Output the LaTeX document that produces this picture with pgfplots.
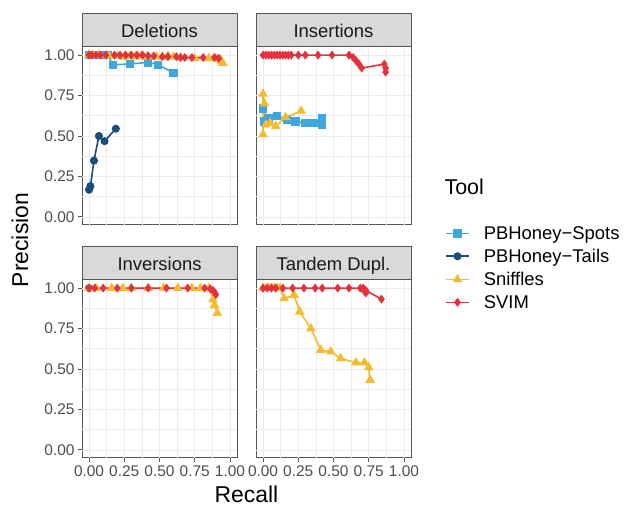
\documentclass[border=0pt]{standalone}
\usepackage{fontspec}
\setmainfont{Liberation Sans}
\usepackage{pgfplots}
\pgfplotsset{compat=1.18}

\definecolor{spots}{HTML}{3EA8DE}
\definecolor{tails}{HTML}{1A4D7C}
\definecolor{sniffles}{HTML}{F6BA2F}
\definecolor{svim}{HTML}{E3323E}
\definecolor{gridc}{HTML}{EBEBEB}
\definecolor{borderc}{HTML}{555555}
\definecolor{stripc}{HTML}{D9D9D9}
\definecolor{tickc}{HTML}{4D4D4D}

\pgfplotsset{
  panel/.style={
    width=155bp, height=178bp, scale only axis, clip=false,
    anchor=south west,
    xmin=-0.05, xmax=1.05, ymin=-0.05, ymax=1.05,
    xtick={0,0.25,0.5,0.75,1}, ytick={0,0.25,0.5,0.75,1},
    xmajorgrids=false, ymajorgrids=false,
    % grid lines come from extra ticks that have no length
    extra x ticks={0,0.125,0.25,0.375,0.5,0.625,0.75,0.875,1},
    extra y ticks={0,0.125,0.25,0.375,0.5,0.625,0.75,0.875,1},
    extra x tick labels={}, extra y tick labels={},
    extra x tick style={grid=major, major tick length=0pt,
      major grid style={draw=gridc, line width=0.65bp}},
    extra y tick style={grid=major, major tick length=0pt,
      major grid style={draw=gridc, line width=0.65bp}},
    axis line style={draw=borderc, line width=1bp},
    tick align=outside, major tick length=4bp,
    tick style={draw=borderc, line width=0.9bp},
    xtick pos=left, ytick pos=left,
    tick label style={font=\fontsize{15.5}{18}\selectfont, text=tickc},
    /pgf/number format/.cd, fixed, fixed zerofill, precision=2,
    assume math mode=true, /pgfplots/.cd,
  },
  top/.style={xtick=\empty},
  right/.style={ytick=\empty},
  sp/.style={color=spots, line width=1.6bp, mark=square*, mark size=3.4bp, mark options={solid}},
  ta/.style={color=tails, line width=1.6bp, mark=*, mark size=3.2bp, mark options={solid}},
  sn/.style={color=sniffles, line width=1.6bp, mark=triangle*, mark size=4bp, mark options={solid}},
  sv/.style={color=svim, line width=1.6bp, mark=diamond*, mark size=3.2bp, mark options={solid}},
}

\newcommand{\strip}[1]{%
  \draw[fill=stripc, draw=borderc, line width=1bp] (rel axis cs:0,1) rectangle (rel axis cs:1,1.1854);
  \node[anchor=base, font=\fontsize{18.5}{22}\selectfont, text=black!90] at (rel axis cs:0.5,1.052) {#1};}

\begin{document}
\begin{tikzpicture}
\useasboundingbox (0,0) rectangle (630bp,507bp);

% Deletions
\begin{axis}[panel, top, at={(82bp,282bp)},
  legend style={at={(axis description cs:2.342,0.0)}, anchor=north west,
    draw=none, fill=none, inner sep=0pt, row sep=6.3bp, column sep=13bp,
    font=\fontsize{18.5}{22}\selectfont, nodes={inner sep=1bp}},
  legend cell align=left,
  legend image code/.code={\draw[mark repeat=2, mark phase=2, #1]
    plot coordinates {(0bp,0bp) (11.5bp,0bp) (23bp,0bp)};}]
\addplot[sp] coordinates {(0.0,1.0) (0.02,1.0) (0.04,1.0) (0.07,1.0) (0.1,1.0) (0.13,1.0)
  (0.17,0.94) (0.29,0.945) (0.42,0.955) (0.49,0.94) (0.6,0.89)};
\addplot[ta] coordinates {(0.0,0.168) (0.01,0.19) (0.035,0.348) (0.07,0.5) (0.11,0.468) (0.19,0.545)};
\addplot[sn] coordinates {(0.0,1.0) (0.03,1.0) (0.07,1.0) (0.14,0.995) (0.2,0.995) (0.25,0.99)
  (0.29,0.995) (0.33,0.99) (0.37,0.995) (0.41,0.99) (0.48,0.99) (0.52,0.99) (0.56,0.995)
  (0.6,0.99) (0.65,0.985) (0.75,0.98) (0.85,0.98) (0.9,0.98) (0.93,0.975) (0.94,0.96) (0.95,0.95)};
\addplot[sv] coordinates {(0.0,1.0) (0.02,1.0) (0.05,1.0) (0.08,1.0) (0.12,1.0) (0.18,1.0)
  (0.22,1.0) (0.26,1.0) (0.3,1.0) (0.34,1.0) (0.38,1.0) (0.42,0.995) (0.46,0.995) (0.52,0.99)
  (0.56,0.99) (0.62,0.99) (0.65,0.985) (0.68,0.985) (0.73,0.985) (0.81,0.985) (0.89,0.985) (0.92,0.98)};
\legend{PBHoney−Spots, PBHoney−Tails, Sniffles, SVIM}
\strip{Deletions}
\end{axis}

% Insertions
\begin{axis}[panel, top, right, at={(256bp,282bp)}]
\addplot[sp] coordinates {(0.0,0.67) (0.01,0.59) (0.04,0.61) (0.1,0.625) (0.17,0.6) (0.23,0.59)
  (0.3,0.58) (0.36,0.58) (0.42,0.61) (0.42,0.57)};
\addplot[sn] coordinates {(0.0,0.51) (0.0,0.76) (0.01,0.70) (0.02,0.57) (0.05,0.58) (0.09,0.56)
  (0.16,0.615) (0.27,0.655)};
\addplot[sv] coordinates {(0.0,1.0) (0.02,1.0) (0.04,1.0) (0.06,1.0) (0.08,1.0) (0.1,1.0)
  (0.12,1.0) (0.14,1.0) (0.16,1.0) (0.18,1.0) (0.2,1.0) (0.25,1.0) (0.3,1.0) (0.39,1.0)
  (0.49,1.0) (0.61,1.0) (0.64,0.985) (0.66,0.965) (0.68,0.945) (0.7,0.92) (0.86,0.944)
  (0.87,0.92) (0.87,0.895)};
\strip{Insertions}
\end{axis}

% Inversions
\begin{axis}[panel, at={(82bp,49bp)}]
\addplot[ta] coordinates {(0.0,1.0)};
\addplot[sn] coordinates {(0.0,1.0) (0.05,1.0) (0.16,1.0) (0.24,1.0) (0.3,1.0) (0.42,1.0)
  (0.53,1.0) (0.63,1.0) (0.73,1.0) (0.79,1.0) (0.85,1.0) (0.88,0.93) (0.89,0.895) (0.91,0.845)};
\addplot[sv] coordinates {(0.0,1.0) (0.04,1.0) (0.1,1.0) (0.2,1.0) (0.3,1.0) (0.42,1.0)
  (0.55,1.0) (0.7,1.0) (0.82,1.0) (0.86,0.995) (0.88,0.985) (0.89,0.975) (0.9,0.96)};
\strip{Inversions}
\end{axis}

% Tandem duplications
\begin{axis}[panel, right, at={(256bp,49bp)}]
\addplot[sn] coordinates {(0.0,1.0) (0.02,1.0) (0.04,1.0) (0.06,1.0) (0.08,1.0) (0.1,1.0)
  (0.12,1.0) (0.15,0.936) (0.22,0.957) (0.26,0.854) (0.34,0.75) (0.41,0.617) (0.48,0.607)
  (0.55,0.566) (0.66,0.539) (0.72,0.539) (0.75,0.51) (0.76,0.432)};
\addplot[sv] coordinates {(0.0,1.0) (0.03,1.0) (0.06,1.0) (0.09,1.0) (0.14,1.0) (0.21,1.0)
  (0.29,1.0) (0.37,1.0) (0.42,1.0) (0.53,1.0) (0.61,1.0) (0.69,1.0) (0.71,1.0) (0.72,0.99)
  (0.72,0.98) (0.73,0.97) (0.73,0.985) (0.84,0.932)};
\strip{Tandem Dupl.}
\end{axis}

\node[anchor=base, rotate=90, font=\fontsize{23}{27}\selectfont] at (28bp,267bp) {Precision};
\node[anchor=base, font=\fontsize{23}{27}\selectfont] at (246.5bp,5bp) {Recall};
\node[anchor=base west, font=\fontsize{21.5}{25}\selectfont] at (441bp,312bp) {Tool};
\end{tikzpicture}
\end{document}
